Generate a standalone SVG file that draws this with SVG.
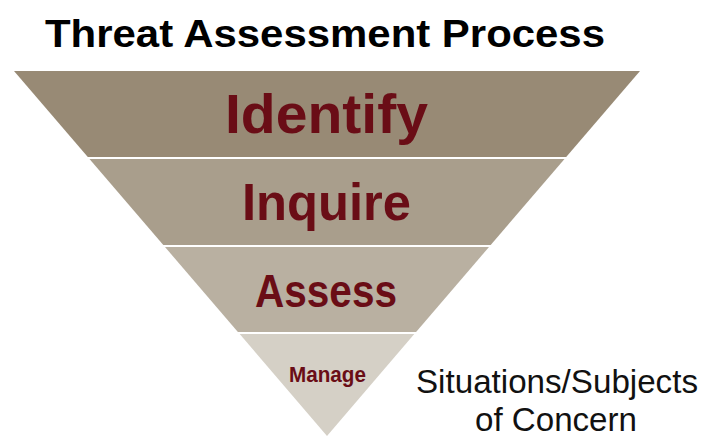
<svg xmlns="http://www.w3.org/2000/svg" width="704" height="437" viewBox="0 0 704 437">
  <style>
    .lbl { font-family: "Liberation Sans", Arial, sans-serif; font-weight: bold; fill: #6a0d16; text-anchor: middle; }
    .title { font-family: "Liberation Sans", Arial, sans-serif; font-weight: bold; fill: #000; }
    .side { font-family: "Liberation Sans", Arial, sans-serif; font-weight: 300; fill: #111; }
  </style>
  <rect width="704" height="437" fill="#ffffff"/>
  <text class="title" x="45" y="47" font-size="38" textLength="560" lengthAdjust="spacingAndGlyphs">Threat Assessment Process</text>
  <g id="identify">
    <polygon points="14,71 640,71 566.2,157 87.8,157" fill="#988a75"/>
    <text class="lbl" x="326.5" y="133" font-size="55" textLength="203" lengthAdjust="spacingAndGlyphs">Identify</text>
  </g>
  <g id="inquire">
    <polygon points="89.5,159 564.5,159 490.7,245 163.3,245" fill="#a99e8c"/>
    <text class="lbl" x="326.5" y="220" font-size="52" textLength="169" lengthAdjust="spacingAndGlyphs">Inquire</text>
  </g>
  <g id="assess">
    <polygon points="165,247 489,247 416.1,332 237.9,332" fill="#b9b0a1"/>
    <text class="lbl" x="326" y="307" font-size="46" textLength="142" lengthAdjust="spacingAndGlyphs">Assess</text>
  </g>
  <g id="manage">
    <polygon points="239.7,334 414.3,334 327,436" fill="#d5d0c6"/>
    <text class="lbl" x="327.5" y="382" font-size="22" textLength="77" lengthAdjust="spacingAndGlyphs">Manage</text>
  </g>
  <g id="concern">
    <text class="side" x="416" y="393" font-size="33" textLength="282" lengthAdjust="spacingAndGlyphs">Situations/Subjects</text>
    <text class="side" x="475" y="431" font-size="33" textLength="162" lengthAdjust="spacingAndGlyphs">of Concern</text>
  </g>
  <g id="connectors"/>
</svg>
